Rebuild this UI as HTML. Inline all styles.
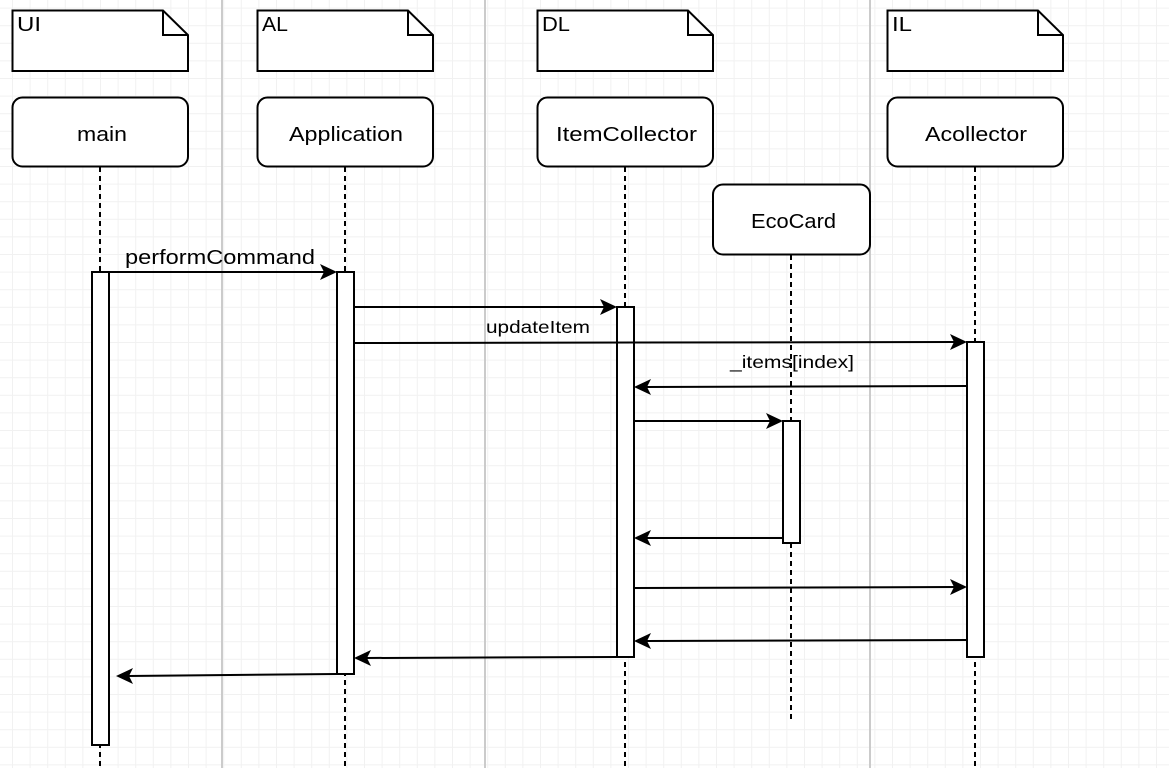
<!DOCTYPE html>
<html><head><meta charset="utf-8"><style>
html,body{margin:0;padding:0;background:#fff;}
svg{display:block;font-family:"Liberation Sans",sans-serif;}
</style></head><body>
<svg width="1169" height="768" viewBox="0 0 1169 768" xmlns="http://www.w3.org/2000/svg">
<defs>
<pattern id="g" x="12" y="7.6" width="17.6" height="17.6" patternUnits="userSpaceOnUse">
<path d="M0 0.5H17.6M0.5 0V17.6" stroke="#f1f1f1" stroke-width="1" fill="none"/>
</pattern>
<path id="R" d="M0 0 L-17 -8 L-13 0 L-17 8 Z" fill="#000"/>
<path id="L" d="M0 0 L17 -8 L13 0 L17 8 Z" fill="#000"/>
</defs>
<rect width="1169" height="768" fill="url(#g)"/>
<g stroke="#cbcbcb" stroke-width="2">
<line x1="222" y1="0" x2="222" y2="768"/>
<line x1="485" y1="0" x2="485" y2="768"/>
<line x1="870" y1="0" x2="870" y2="768"/>
</g>
<g fill="#fff" stroke="#000" stroke-width="2">
<path d="M12.5 10.5H163L188 35V71H12.5Z"/><path d="M163 10.5V35H188" fill="none"/>
<path d="M257.5 10.5H408L433 35V71H257.5Z"/><path d="M408 10.5V35H433" fill="none"/>
<path d="M537.5 10.5H688L713 35V71H537.5Z"/><path d="M688 10.5V35H713" fill="none"/>
<path d="M887.5 10.5H1038L1063 35V71H887.5Z"/><path d="M1038 10.5V35H1063" fill="none"/>
<rect x="12.5" y="97.5" width="175.5" height="69" rx="10"/>
<rect x="257.5" y="97.5" width="175.5" height="69" rx="10"/>
<rect x="537.5" y="97.5" width="175.5" height="69" rx="10"/>
<rect x="887.5" y="97.5" width="175.5" height="69" rx="10"/>
<rect x="713" y="184.5" width="157" height="70" rx="10"/>
</g>
<g stroke="#000" stroke-width="2" stroke-dasharray="5,4">
<line x1="100" y1="167" x2="100" y2="768"/>
<line x1="345" y1="167" x2="345" y2="768"/>
<line x1="625" y1="167" x2="625" y2="768"/>
<line x1="975" y1="167" x2="975" y2="768"/>
<line x1="791" y1="255" x2="791" y2="722"/>
</g>
<g fill="#fff" stroke="#000" stroke-width="2">
<rect x="92" y="272" width="17" height="473"/>
<rect x="337" y="272" width="17" height="402"/>
<rect x="617" y="307" width="17" height="350"/>
<rect x="967" y="342" width="17" height="315"/>
<rect x="783" y="421" width="17" height="122"/>
</g>
<g stroke="#000" stroke-width="2">
<line x1="109" y1="272" x2="325" y2="272"/>
<line x1="354" y1="307" x2="605" y2="307"/>
<line x1="354" y1="343" x2="955" y2="342"/>
<line x1="967" y1="386" x2="646" y2="387"/>
<line x1="634" y1="421" x2="771" y2="421"/>
<line x1="783" y1="538" x2="646" y2="538"/>
<line x1="634" y1="588" x2="955" y2="587"/>
<line x1="967" y1="640" x2="646" y2="641"/>
<line x1="617" y1="657" x2="366" y2="658"/>
<line x1="337" y1="674" x2="128" y2="676"/>
</g>
<use href="#R" x="337" y="272"/>
<use href="#R" x="617" y="307"/>
<use href="#R" x="967" y="342"/>
<use href="#L" x="634" y="387"/>
<use href="#R" x="783" y="421"/>
<use href="#L" x="634" y="538"/>
<use href="#R" x="967" y="587"/>
<use href="#L" x="634" y="641"/>
<use href="#L" x="354" y="658"/>
<use href="#L" x="116" y="676"/>
<g font-size="20" fill="#000">
<text x="17" y="31" textLength="24" lengthAdjust="spacingAndGlyphs">UI</text>
<text x="262" y="31" textLength="26" lengthAdjust="spacingAndGlyphs">AL</text>
<text x="542" y="31" textLength="28" lengthAdjust="spacingAndGlyphs">DL</text>
<text x="892" y="31" textLength="20" lengthAdjust="spacingAndGlyphs">IL</text>
<text x="77" y="141" textLength="50" lengthAdjust="spacingAndGlyphs">main</text>
<text x="289" y="141" textLength="114" lengthAdjust="spacingAndGlyphs">Application</text>
<text x="556" y="141" textLength="141" lengthAdjust="spacingAndGlyphs">ItemCollector</text>
<text x="925" y="141" textLength="102" lengthAdjust="spacingAndGlyphs">Acollector</text>
<text x="751" y="228" textLength="85" lengthAdjust="spacingAndGlyphs">EcoCard</text>
<text x="125" y="264" textLength="190" lengthAdjust="spacingAndGlyphs">performCommand</text>
<text x="486" y="333" font-size="17.5" textLength="104" lengthAdjust="spacingAndGlyphs">updateItem</text>
<text x="730" y="368" font-size="17.5" textLength="124" lengthAdjust="spacingAndGlyphs">_items[index]</text>
</g>
</svg>
</body></html>
